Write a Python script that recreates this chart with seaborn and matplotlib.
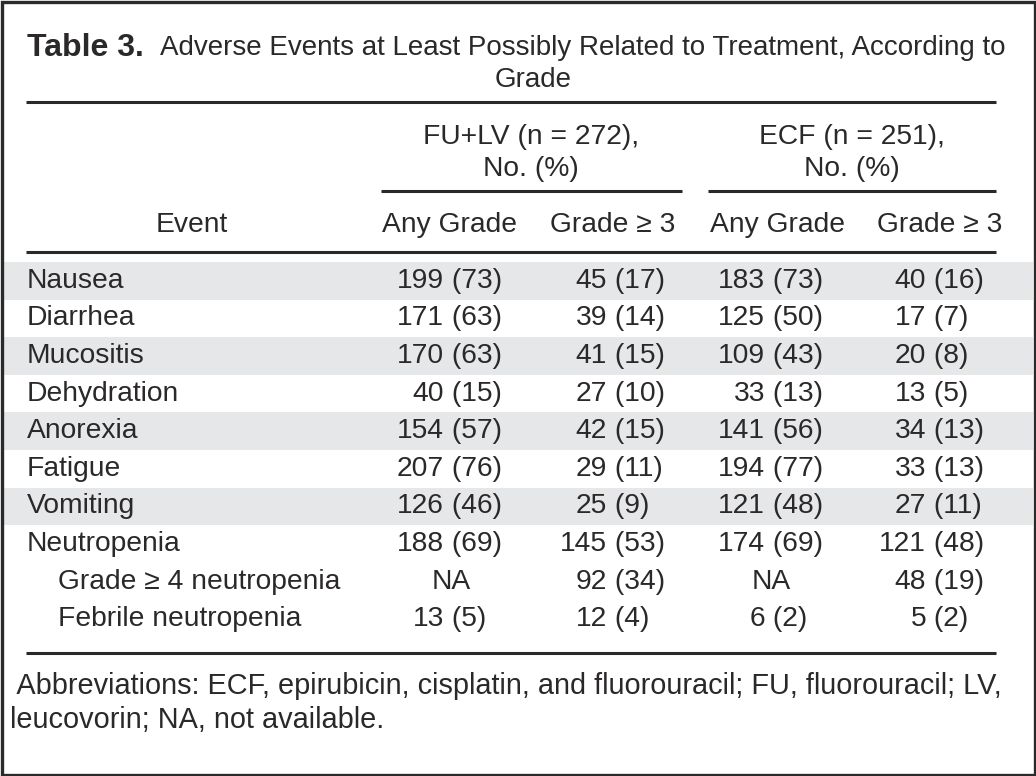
import numpy as np
import pandas as pd
import seaborn as sns
import matplotlib.pyplot as plt

# table content
events = ["Nausea", "Diarrhea", "Mucositis", "Dehydration", "Anorexia", "Fatigue",
          "Vomiting", "Neutropenia", "Grade \u2265 4 neutropenia", "Febrile neutropenia"]
indent = [0, 0, 0, 0, 0, 0, 0, 0, 1, 1]
shaded = [1, 0, 1, 0, 1, 0, 1, 0, 0, 0]

fu_any_n = [199, 171, 170, 40, 154, 207, 126, 188, None, 13]
fu_any_p = [73, 63, 63, 15, 57, 76, 46, 69, None, 5]
fu_g3_n = [45, 39, 41, 27, 42, 29, 25, 145, 92, 12]
fu_g3_p = [17, 14, 15, 10, 15, 11, 9, 53, 34, 4]
ecf_any_n = [183, 125, 109, 33, 141, 194, 121, 174, None, 6]
ecf_any_p = [73, 50, 43, 13, 56, 77, 48, 69, None, 2]
ecf_g3_n = [40, 17, 20, 13, 34, 33, 27, 121, 48, 5]
ecf_g3_p = [16, 7, 8, 5, 13, 13, 11, 48, 19, 2]

groups = ["FU+LV (n = 272),\nNo. (%)", "ECF (n = 251),\nNo. (%)"]
col_labels = ["Any Grade", "Grade \u2265 3", "Any Grade", "Grade \u2265 3"]
title_bold = "Table 3."
title_rest = "Adverse Events at Least Possibly Related to Treatment, According to"
title_line2 = "Grade"
footnote = (" Abbreviations: ECF, epirubicin, cisplatin, and fluorouracil; FU, fluorouracil; LV,\n"
            "leucovorin; NA, not available.")

df = pd.DataFrame({"event": events, "indent": indent, "shaded": shaded,
                   "fu_any_n": fu_any_n, "fu_any_p": fu_any_p,
                   "fu_g3_n": fu_g3_n, "fu_g3_p": fu_g3_p,
                   "ecf_any_n": ecf_any_n, "ecf_any_p": ecf_any_p,
                   "ecf_g3_n": ecf_g3_n, "ecf_g3_p": ecf_g3_p})

sns.set_theme(style="white")
plt.rcParams['font.family'] = ['Liberation Sans', 'DejaVu Sans']

TXT = "#2b2829"
SHADE = "#e6e7e8"
FS = 20.3

fig = plt.figure(figsize=(10.36, 7.76), dpi=100)
ax = fig.add_axes([0, 0, 1, 1])
ax.set_xlim(0, 1036)
ax.set_ylim(776, 0)
ax.axis("off")

# outer frame
ax.add_patch(plt.Rectangle((1.5, 1.5), 1033, 773, fill=False, ec="#2a2a2a", lw=2.4))

# title
ax.text(27, 48, title_bold, fontsize=23, fontweight="bold", color=TXT, va="center",
        family=['Liberation Sans Narrow', 'Liberation Sans'])
ax.text(160, 48, title_rest, fontsize=20.0, color=TXT, va="center")
ax.text(533, 80, title_line2, fontsize=20.0, color=TXT, va="center", ha="center")
ax.hlines(102, 26, 996, color=TXT, lw=2.2)

# group headers
grp_x = [531, 852]
for gx, g in zip(grp_x, groups):
    ax.text(gx, 153, g, fontsize=FS, color=TXT, ha="center", va="center", linespacing=1.3)
ax.hlines(191, 381, 682, color=TXT, lw=2.2)
ax.hlines(191, 708, 996, color=TXT, lw=2.2)

# column headers
ax.text(192, 225, "Event", fontsize=FS, color=TXT, ha="center", va="center")
col_cx = [449, 613, 777, 940]
for cx, lab in zip(col_cx, col_labels):
    ax.text(cx, 225, lab, fontsize=FS, color=TXT, ha="center", va="center")
ax.hlines(252, 26, 996, color=TXT, lw=2.2)

# body rows
row0, rowh = 262, 37.6
splits = [444, 607, 765, 926]
na_x = [451, 771]
cols = [("fu_any_n", "fu_any_p"), ("fu_g3_n", "fu_g3_p"),
        ("ecf_any_n", "ecf_any_p"), ("ecf_g3_n", "ecf_g3_p")]
for i, r in df.iterrows():
    top = row0 + i * rowh
    yc = top + rowh / 2
    if r["shaded"]:
        ax.axhspan(top, top + rowh, xmin=3 / 1036, xmax=1033 / 1036, color=SHADE, lw=0, zorder=0)
    ax.text(27 + 31 * r["indent"], yc, r["event"], fontsize=FS, color=TXT, va="center")
    for j, (cn, cp) in enumerate(cols):
        n, p = r[cn], r[cp]
        if pd.isna(n):
            ax.text(na_x[j // 2], yc, "NA", fontsize=FS, color=TXT, ha="center", va="center")
        else:
            ax.text(splits[j], yc, f"{int(n)}", fontsize=FS, color=TXT, ha="right", va="center")
            ax.text(splits[j], yc, f" ({int(p)})", fontsize=FS, color=TXT, ha="left", va="center")

ax.hlines(row0 + len(df) * rowh + 15, 26, 996, color=TXT, lw=2.2)

# footnote
ax.text(10, 703, footnote, fontsize=20.8, color=TXT, va="center", linespacing=1.28)

fig.savefig("out.png", dpi=100)
